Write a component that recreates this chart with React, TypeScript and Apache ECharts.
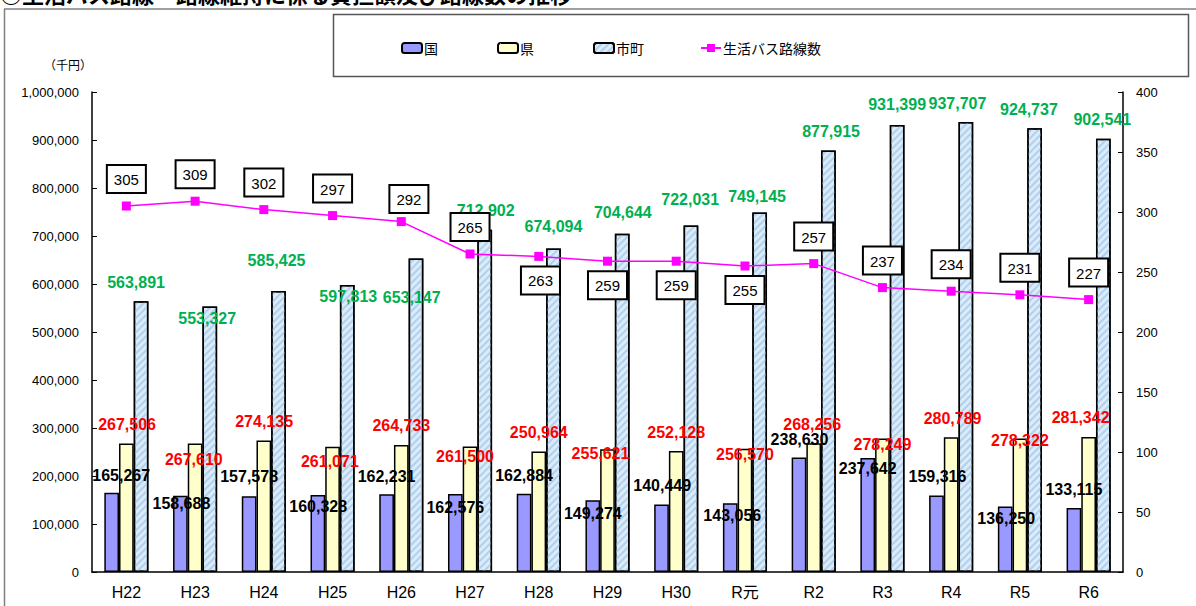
import React, { useEffect, useRef } from 'react';
import * as echarts from 'echarts';

const categories = ['H22', 'H23', 'H24', 'H25', 'H26', 'H27', 'H28', 'H29', 'H30', 'R元', 'R2', 'R3', 'R4', 'R5', 'R6'];
const kuni = [165267, 158688, 157578, 160328, 162231, 162576, 162884, 149274, 140449, 143056, 238630, 237642, 159316, 136250, 133115];
const ken = [267506, 267610, 274135, 261071, 264733, 261500, 250964, 255621, 252128, 256570, 268256, 278249, 280789, 278322, 281342];
const shicho = [563891, 553327, 585425, 597813, 653147, 712902, 674094, 704644, 722031, 749145, 877915, 931399, 937707, 924737, 902541];
const routes = [305, 309, 302, 297, 292, 265, 263, 259, 259, 255, 257, 237, 234, 231, 227];

const seriesNames = ['国', '県', '市町', '生活バス路線数'];
const titleText = '○生活バス路線・路線維持に係る負担額及び路線数の推移';
const unitText = '（千円）';

// label placement tweaks (styling only)
const kuniOffsets = [[9.5, 2], [1, 26.6], [0, -1], [0.3, 30.6], [0, 1], [0, 33], [0, 1], [0, 32], [0.7, 0], [2, 31], [0.5, 1], [0, 30], [1, 0], [1, 31], [0, 0]];
const kenOffsets = [[0.7, 0.4], [-1.3, 35], [0.3, 0], [-2.7, 34], [0, 0], [-5, 29], [0, 0], [-7, 23], [0, 0.6], [0, 25], [-1.5, 0], [0, 25], [1.4, 0], [0, 21], [-8, 0]];
const shichoOffsets = [[-5, 0], [-2.6, 31], [-2, -11], [1, 30], [-4.3, 57.6], [1, 0], [0, -2.6], [0.6, -2], [-0.7, -6.7], [-2.6, 3], [2.7, 0], [0, -1], [-8.4, 1], [-5.7, 0], [-1, 0]];
const routeLabelBelow = [false, false, false, false, false, false, true, true, true, true, false, false, false, false, false];
const routeOffsets = [[0, 0], [0, 0], [0, 0], [0, 0], [7.6, 4.3], [0, 0], [1.7, 0], [0, 0], [0, 0], [0, 0], [0, 0], [0, 0], [0, 0], [0, 0], [0, 0]];
const legendLefts = [396, 492, 588, 695];

const fmt = (v: number) => v.toLocaleString('en-US');

const barLabel = (color: string) => ({
  show: true,
  position: 'top',
  distance: 11,
  color,
  fontSize: 16,
  fontWeight: 'bold',
  fontFamily: '"Liberation Sans", Arial, sans-serif',
  formatter: (p: any) => fmt(p.value),
});

export default function App() {
  const ref = useRef<HTMLDivElement>(null);
  useEffect(() => {
    if (!ref.current) return;
    const chart = echarts.init(ref.current, undefined, { renderer: 'svg' });
    const option: any = {
      animation: false,
      backgroundColor: '#fff',
      textStyle: { fontFamily: '"Liberation Sans", "Noto Sans CJK JP", sans-serif' },
      legend: seriesNames.map((n, i) => ({
        data: [n],
        left: legendLefts[i],
        top: 36,
        itemWidth: 20,
        itemHeight: 10,
        selectedMode: false,
        textStyle: { fontSize: 14, color: '#000', fontFamily: '"Noto Sans CJK JP", sans-serif', padding: [0, 0, 0, -3] },
      })),
      graphic: [
        { type: 'line', shape: { x1: 4.5, y1: 9, x2: 4.5, y2: 606 }, style: { stroke: '#808080', lineWidth: 1.5 } },
        { type: 'line', shape: { x1: 4, y1: 9, x2: 1196, y2: 9 }, style: { stroke: '#808080', lineWidth: 1.5 } },
        { type: 'rect', shape: { x: 333.5, y: 14.5, width: 855, height: 62 }, style: { fill: 'none', stroke: '#555', lineWidth: 1.5 }, z: -1 },
        {
          type: 'text', x: 0, y: 4,
          style: { text: titleText, fontSize: 22, fontWeight: 'bold', fill: '#000', verticalAlign: 'bottom', fontFamily: '"Noto Sans CJK JP", sans-serif' },
        },
        {
          type: 'text', x: 68, y: 64,
          style: { text: unitText, fontSize: 12, fill: '#000', align: 'center', verticalAlign: 'middle', fontFamily: '"Noto Sans CJK JP", sans-serif' },
        },
      ],
      grid: { left: 92, right: 73, top: 92, bottom: 34 },
      xAxis: {
        type: 'category',
        data: categories,
        axisLine: { lineStyle: { color: '#000', width: 1.5 } },
        axisTick: { inside: true, length: 6, lineStyle: { color: '#000' } },
        axisLabel: { fontSize: 16, color: '#000', margin: 12, fontFamily: '"Liberation Sans", "Noto Sans CJK JP", sans-serif' },
      },
      yAxis: [
        {
          type: 'value', min: 0, max: 1000000, interval: 100000,
          axisLine: { show: true, lineStyle: { color: '#000', width: 1.5 } },
          axisTick: { show: true, inside: true, length: 5, lineStyle: { color: '#000' } },
          splitLine: { show: false },
          axisLabel: { fontSize: 13, color: '#000', margin: 13, formatter: (v: number) => fmt(v) },
        },
        {
          type: 'value', min: 0, max: 400, interval: 50, position: 'right',
          axisLine: { show: true, lineStyle: { color: '#000', width: 1.5 } },
          axisTick: { show: true, inside: true, length: 5, lineStyle: { color: '#000' } },
          splitLine: { show: false },
          axisLabel: { fontSize: 13, color: '#000', margin: 13 },
        },
      ],
      series: [
        {
          name: seriesNames[0], type: 'bar', barWidth: 14.7, barGap: '0%',
          itemStyle: { color: '#9999FF', borderColor: '#000', borderWidth: 1.5 },
          label: barLabel('#000'),
          data: kuni.map((v, i) => ({ value: v, label: { offset: kuniOffsets[i] } })),
          z: 2,
        },
        {
          name: seriesNames[1], type: 'bar', barWidth: 14.7, barGap: '0%',
          itemStyle: { color: '#FFFFCC', borderColor: '#000', borderWidth: 1.5 },
          label: barLabel('#FF0000'),
          data: ken.map((v, i) => ({ value: v, label: { offset: kenOffsets[i] } })),
          z: 2,
        },
        {
          name: seriesNames[2], type: 'bar', barWidth: 14.7, barGap: '0%',
          itemStyle: {
            color: '#DCEBF8', borderColor: '#000', borderWidth: 1.5,
            decal: { symbol: 'rect', symbolSize: 1, color: '#AFD0EE', dashArrayX: [1, 0], dashArrayY: [1.2, 2.3], rotation: -Math.PI / 4 },
          },
          label: barLabel('#00B050'),
          data: shicho.map((v, i) => ({ value: v, label: { offset: shichoOffsets[i] } })),
          z: 2,
        },
        {
          name: seriesNames[3], type: 'line', yAxisIndex: 1,
          symbol: 'rect', symbolSize: 9,
          itemStyle: { color: '#FF00FF' },
          lineStyle: { color: '#FF00FF', width: 1.5 },
          label: {
            show: true, position: 'top', distance: 9.5,
            color: '#000', fontSize: 15, fontFamily: '"Liberation Sans", Arial, sans-serif',
            backgroundColor: '#fff', borderColor: '#000', borderWidth: 2, padding: [6, 6, 5, 6],
          },
          data: routes.map((v, i) => ({
            value: v,
            label: routeLabelBelow[i]
              ? { position: 'bottom', distance: 6.5, offset: routeOffsets[i] }
              : { position: 'top', distance: 9.5, offset: routeOffsets[i] },
          })),
          z: 5,
        },
      ],
    };
    chart.setOption(option);
    return () => chart.dispose();
  }, []);
  return <div ref={ref} style={{ position: 'absolute', left: 0, top: 0, width: 1196, height: 606 }} />;
}
